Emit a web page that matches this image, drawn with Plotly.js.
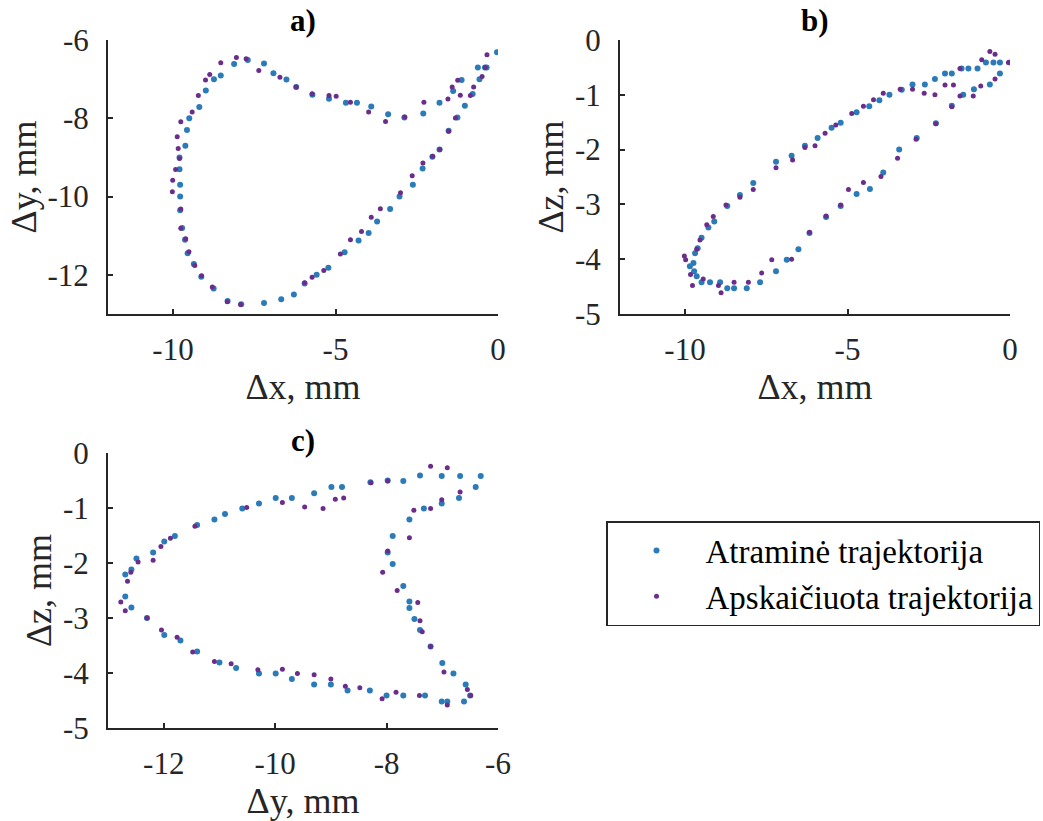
<!DOCTYPE html>
<html>
<head>
<meta charset="utf-8">
<script src="https://cdn.plot.ly/plotly-3.0.1.min.js"></script>
<style>
html,body{margin:0;padding:0;background:#fff;}
#chart{width:1043px;height:821px;}
</style>
</head>
<body>
<div id="chart"></div>
<script>
// ---------- Data ----------
var seriesNames = ["Atraminė trajektorija", "Apskaičiuota trajektorija"];
var panelTitles = ["a)", "b)", "c)"];

// tick values / labels (hyphen-minus as in the reference)
var ticksDx = [-10, -5, 0];
var ticksDxText = ["-10", "-5", "0"];
var ticksDyA = [-12, -10, -8, -6];
var ticksDyAText = ["-12", "-10", "-8", "-6"];
var ticksDz = [-5, -4, -3, -2, -1, 0];
var ticksDzText = ["-5", "-4", "-3", "-2", "-1", "0"];
var ticksDyC = [-12, -10, -8, -6];
var ticksDyCText = ["-12", "-10", "-8", "-6"];

// a) Δx vs Δy  – reference (Atraminė)
var aRefX = [-0.03,-0.40,-0.62,-1.12,-1.38,-1.80,-2.30,-2.88,-3.38,-3.90,-4.34,-4.68,-5.20,-5.71,-6.21,-6.51,-6.91,-7.20,-7.70,-8.12,-8.53,-8.74,-8.99,-9.19,-9.50,-9.57,-9.62,-9.80,-9.80,-9.78,-9.78,-9.78,-9.72,-9.63,-9.55,-9.36,-9.13,-8.75,-8.32,-7.90,-7.20,-6.67,-6.28,-5.95,-5.58,-5.22,-4.72,-4.29,-3.98,-3.72,-3.32,-3.03,-2.62,-2.32,-2.02,-1.80,-1.52,-1.25,-1.02,-0.78,-0.57,-0.35];
var aRefY = [-6.31,-6.70,-6.70,-7.02,-7.30,-7.60,-7.88,-7.98,-7.90,-7.70,-7.60,-7.60,-7.50,-7.40,-7.20,-7.01,-6.85,-6.60,-6.51,-6.61,-6.91,-7.00,-7.29,-7.71,-8.00,-8.30,-8.70,-9.00,-9.30,-9.70,-10.00,-10.35,-10.80,-11.10,-11.45,-11.72,-12.05,-12.35,-12.67,-12.75,-12.72,-12.62,-12.50,-12.22,-12.00,-11.82,-11.42,-11.12,-10.93,-10.64,-10.32,-10.00,-9.70,-9.28,-8.98,-8.80,-8.32,-7.98,-7.68,-7.38,-7.00,-6.70];
// a) computed (Apskaičiuota)
var aCalcX = [-0.34,-0.39,-1.24,-1.41,-1.16,-1.54,-2.28,-2.87,-3.46,-3.98,-4.54,-4.98,-5.20,-5.72,-6.21,-6.71,-7.36,-7.75,-8.05,-8.53,-8.87,-9.00,-9.22,-9.41,-9.76,-9.87,-9.84,-9.80,-9.92,-10.01,-10.02,-9.76,-9.76,-9.61,-9.51,-9.33,-9.12,-8.79,-8.33,-7.92,-5.95,-5.72,-5.36,-4.85,-4.54,-4.20,-3.90,-3.62,-3.00,-2.64,-2.31,-2.01,-1.79,-1.52,-1.31,-0.85,-0.75,-0.49];
var aCalcY = [-6.38,-6.70,-7.03,-7.20,-7.41,-7.51,-7.59,-7.97,-8.08,-7.84,-7.59,-7.44,-7.42,-7.37,-7.20,-6.95,-6.78,-6.48,-6.45,-6.58,-6.88,-7.02,-7.42,-7.84,-8.09,-8.47,-8.77,-9.03,-9.31,-9.58,-9.88,-10.32,-10.81,-11.08,-11.41,-11.76,-12.02,-12.31,-12.69,-12.76,-12.20,-12.06,-11.89,-11.47,-11.10,-10.89,-10.53,-10.31,-9.90,-9.47,-9.14,-8.97,-8.80,-8.33,-7.99,-7.42,-7.20,-6.93];

// b) Δx vs Δz – reference
var bRefX = [0.00,-0.31,-0.51,-0.74,-1.00,-1.28,-1.49,-1.79,-2.00,-2.31,-2.62,-3.00,-3.33,-3.71,-4.02,-4.33,-4.72,-5.21,-5.49,-5.92,-6.31,-6.72,-7.20,-7.90,-8.31,-8.70,-9.10,-9.28,-9.49,-9.61,-9.69,-9.74,-9.85,-9.72,-9.64,-9.49,-9.23,-8.92,-8.70,-8.49,-8.10,-7.69,-7.20,-6.87,-6.51,-6.17,-5.66,-5.21,-4.72,-4.31,-3.90,-3.41,-2.87,-2.28,-1.79,-1.44,-1.11,-0.62,-0.31];
var bRefZ = [-0.41,-0.41,-0.41,-0.41,-0.52,-0.52,-0.52,-0.61,-0.61,-0.71,-0.81,-0.81,-0.91,-1.00,-1.10,-1.21,-1.32,-1.51,-1.60,-1.79,-1.93,-2.11,-2.22,-2.61,-2.83,-3.03,-3.31,-3.42,-3.61,-3.80,-3.89,-4.07,-4.13,-4.22,-4.31,-4.42,-4.42,-4.42,-4.53,-4.53,-4.53,-4.42,-4.22,-4.01,-3.82,-3.52,-3.23,-3.03,-2.81,-2.72,-2.42,-2.00,-1.79,-1.52,-1.20,-1.00,-0.90,-0.81,-0.61];
// b) computed
var bCalcX = [-0.62,-0.46,-0.05,-0.87,-1.54,-2.00,-1.74,-2.31,-2.64,-3.00,-3.38,-3.90,-4.20,-4.51,-4.87,-5.36,-5.69,-6.00,-6.31,-6.69,-7.20,-7.90,-8.31,-8.74,-9.13,-9.33,-9.54,-9.64,-10.02,-9.98,-9.83,-9.77,-9.44,-8.97,-8.89,-8.49,-8.05,-7.64,-7.33,-6.72,-6.17,-5.66,-5.21,-4.97,-4.51,-3.97,-3.46,-2.89,-2.28,-1.79,-1.54,-1.13,-0.90,-0.46];
var bCalcZ = [-0.21,-0.26,-0.41,-0.36,-0.52,-0.82,-0.82,-1.00,-0.97,-0.90,-0.90,-0.97,-1.09,-1.21,-1.34,-1.55,-1.70,-1.93,-1.96,-2.19,-2.33,-2.73,-2.87,-3.01,-3.22,-3.37,-3.65,-3.82,-3.94,-4.01,-4.28,-4.48,-4.36,-4.48,-4.61,-4.42,-4.42,-4.25,-4.01,-4.00,-3.51,-3.21,-3.01,-2.73,-2.60,-2.49,-2.16,-1.81,-1.53,-1.22,-1.02,-1.02,-0.84,-0.71];

// c) Δy vs Δz – reference
var cRefY = [-6.31,-6.40,-6.68,-6.70,-7.01,-7.01,-7.33,-7.40,-7.70,-7.98,-8.29,-8.80,-8.99,-9.30,-9.70,-9.99,-10.29,-10.59,-10.90,-11.09,-11.40,-11.80,-11.99,-12.19,-12.49,-12.58,-12.69,-12.69,-12.58,-12.30,-11.99,-11.70,-11.40,-11.00,-10.70,-10.29,-9.99,-9.70,-9.30,-9.00,-8.70,-8.30,-8.00,-7.70,-7.31,-7.01,-6.91,-6.61,-6.50,-6.58,-6.80,-7.00,-7.21,-7.40,-7.50,-7.59,-7.59,-7.70,-7.89,-7.98,-7.89,-7.59];
var cRefZ = [-0.42,-0.62,-0.42,-0.82,-0.42,-0.92,-1.01,-0.41,-0.51,-0.50,-0.53,-0.62,-0.62,-0.73,-0.82,-0.82,-0.92,-1.01,-1.11,-1.21,-1.31,-1.51,-1.61,-1.81,-1.92,-2.12,-2.21,-2.61,-2.81,-3.00,-3.31,-3.41,-3.61,-3.81,-3.91,-4.01,-4.01,-4.11,-4.21,-4.21,-4.32,-4.32,-4.41,-4.41,-4.41,-4.52,-4.52,-4.52,-4.41,-4.21,-4.01,-3.82,-3.52,-3.22,-3.02,-2.82,-2.70,-2.42,-2.02,-1.81,-1.51,-1.21];
// c) computed
var cCalcY = [-7.21,-6.91,-8.28,-7.98,-6.68,-7.01,-7.21,-7.51,-7.59,-7.98,-8.07,-7.81,-7.44,-7.40,-7.36,-7.21,-6.97,-6.55,-6.49,-6.91,-7.41,-7.83,-8.08,-8.48,-8.74,-9.00,-9.30,-9.60,-9.87,-10.31,-10.79,-11.09,-11.48,-11.76,-12.04,-12.30,-12.69,-12.77,-12.65,-12.59,-12.46,-12.19,-12.05,-11.88,-11.44,-10.51,-9.87,-9.47,-9.14,-8.92,-8.77];
var cCalcZ = [-0.24,-0.27,-0.54,-0.51,-0.71,-0.85,-1.01,-1.04,-1.54,-1.78,-2.17,-2.50,-2.72,-3.05,-3.25,-3.52,-3.98,-4.30,-4.41,-4.58,-4.41,-4.35,-4.47,-4.27,-4.24,-4.11,-4.03,-4.01,-3.93,-3.94,-3.83,-3.79,-3.62,-3.35,-3.22,-3.00,-2.87,-2.71,-2.33,-2.17,-1.98,-1.95,-1.70,-1.55,-1.33,-0.99,-0.90,-0.98,-1.01,-0.84,-0.82];

// ---------- Styles ----------
var BLUE = "#2b7bb9", PURPLE = "#6b2d8c";
var FONT = "Liberation Serif";
var AXC = "#262626";

function refTrace(x, y, xa, ya, show) {
  return {x: x, y: y, xaxis: xa, yaxis: ya, type: "scatter", mode: "markers",
    name: seriesNames[0], showlegend: show,
    marker: {color: BLUE, size: 6}};
}
function calcTrace(x, y, xa, ya, show) {
  return {x: x, y: y, xaxis: xa, yaxis: ya, type: "scatter", mode: "markers",
    name: seriesNames[1], showlegend: show,
    marker: {color: PURPLE, size: 5}};
}

var traces = [
  refTrace(aRefX, aRefY, "x", "y", true),
  calcTrace(aCalcX, aCalcY, "x", "y", true),
  refTrace(bRefX, bRefZ, "x2", "y2", false),
  calcTrace(bCalcX, bCalcZ, "x2", "y2", false),
  refTrace(cRefY, cRefZ, "x3", "y3", false),
  calcTrace(cCalcY, cCalcZ, "x3", "y3", false)
];

function axis(domain, range, tv, tt, anchor, titleText, isX) {
  return {
    domain: domain, range: range, tickmode: "array", tickvals: tv, ticktext: tt, anchor: anchor,
    showgrid: false, zeroline: false, showline: true, linecolor: AXC, linewidth: 2,
    ticks: "inside", ticklen: 5, tickwidth: 2, tickcolor: AXC,
    ticklabelstandoff: isX ? 7 : 11,
    tickfont: {family: FONT, size: 31, color: AXC},
    title: {text: titleText, font: {family: FONT, size: 36, color: AXC}, standoff: 0},
    automargin: false
  };
}

var xdL = [108/1043, 498/1043], xdR = [620/1043, 1010/1043];
var ydT = [1 - 314/821, 1 - 40/821], ydB = [1 - 728/821, 1 - 453/821];

function panelTitle(txt, xPx, yPx) {
  return {text: txt, xref: "paper", yref: "paper", x: xPx/1043, y: 1 - yPx/821,
    xanchor: "center", yanchor: "middle", showarrow: false,
    font: {family: FONT, size: 31, color: "#000", weight: "bold"}};
}

var layout = {
  width: 1043, height: 821,
  margin: {l: 0, r: 0, t: 0, b: 0},
  showlegend: true,
  font: {family: FONT, color: AXC},
  xaxis: axis(xdL, [-12, 0], ticksDx, ticksDxText, "y", "Δx, mm", true),
  yaxis: axis(ydT, [-13, -6], ticksDyA, ticksDyAText, "x", "Δy, mm", false),
  xaxis2: axis(xdR, [-12, 0], ticksDx, ticksDxText, "y2", "Δx, mm", true),
  yaxis2: axis(ydT, [-5, 0], ticksDz, ticksDzText, "x2", "Δz, mm", false),
  xaxis3: axis(xdL, [-13, -6], ticksDyC, ticksDyCText, "y3", "Δy, mm", true),
  yaxis3: axis(ydB, [-5, 0], ticksDz, ticksDzText, "x3", "Δz, mm", false),
  legend: {
    x: 606/1043, y: 1 - 521/821, xanchor: "left", yanchor: "top",
    bgcolor: "#fff", bordercolor: AXC, borderwidth: 1.5,
    font: {family: FONT, size: 33, color: "#000"},
    tracegroupgap: 0, itemwidth: 88
  },
  annotations: [
    panelTitle(panelTitles[0], 303, 20),
    panelTitle(panelTitles[1], 815, 20),
    panelTitle(panelTitles[2], 303, 440)
  ]
};

Plotly.newPlot("chart", traces, layout, {displayModeBar: false, staticPlot: true});
</script>
</body>
</html>
